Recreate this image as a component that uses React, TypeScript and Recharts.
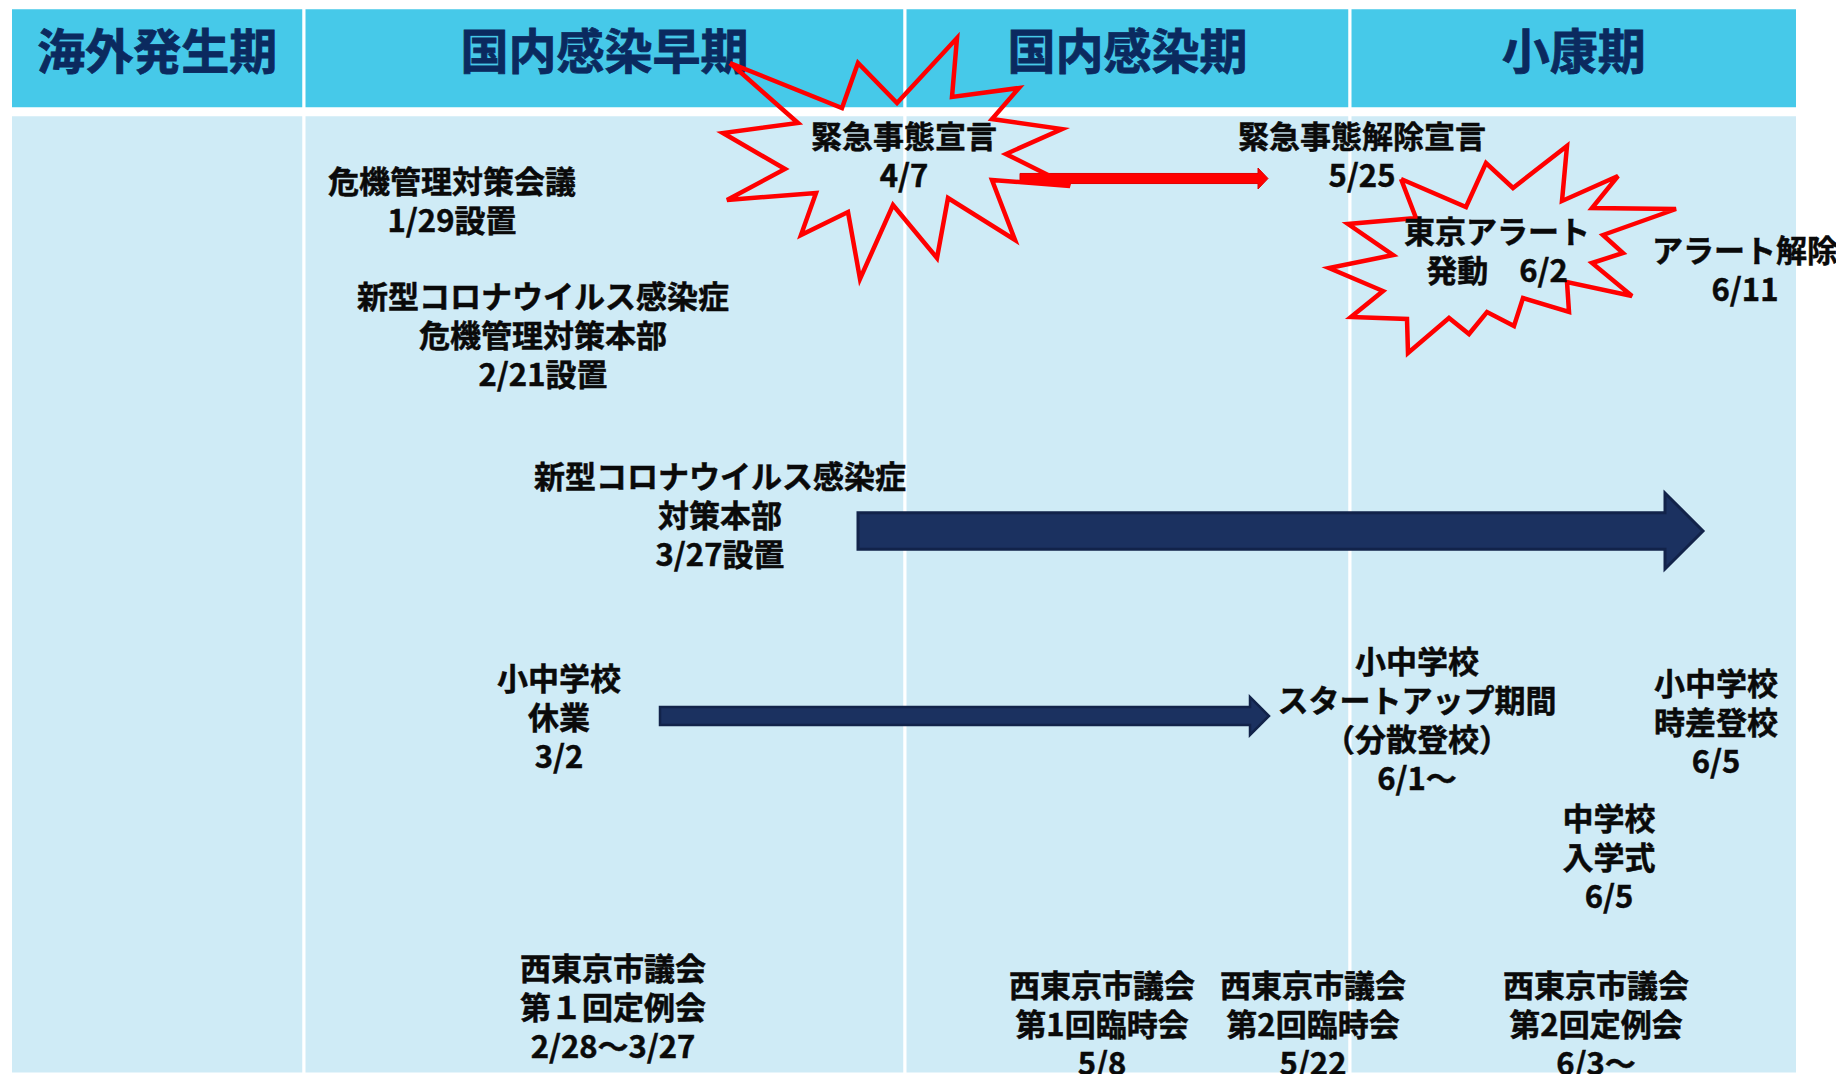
import { ScatterChart, Scatter, XAxis, YAxis, ReferenceArea } from 'recharts';

const W = 1836;
const H = 1074;

// phase columns, in the diagram's own layout units
const phaseNames = ['海外発生期', '国内感染早期', '国内感染期', '小康期'];
const phaseEdges = [10.5, 304, 905, 1350, 1797.5];
const headerBand = [7.8, 108.8];
const bodyBand = [114.8, 1074];

// event labels: x = centre, y = first line
const events = [
  { x: 452, y: 183, lines: ['危機管理対策会議', '1/29設置'] },
  { x: 543, y: 298, lines: ['新型コロナウイルス感染症', '危機管理対策本部', '2/21設置'] },
  { x: 720, y: 478, lines: ['新型コロナウイルス感染症', '対策本部', '3/27設置'] },
  { x: 559, y: 680, lines: ['小中学校', '休業', '3/2'] },
  { x: 613, y: 970, lines: ['西東京市議会', '第１回定例会', '2/28～3/27'] },
  { x: 904, y: 138, lines: ['緊急事態宣言', '4/7'] },
  { x: 1362, y: 138, lines: ['緊急事態解除宣言', '5/25'] },
  { x: 1497, y: 233, lines: ['東京アラート', '発動　6/2'] },
  { x: 1745, y: 252, lines: ['アラート解除', '6/11'] },
  { x: 1417, y: 663, lines: ['小中学校', 'スタートアップ期間', '（分散登校）', '6/1～'] },
  { x: 1716, y: 685, lines: ['小中学校', '時差登校', '6/5'] },
  { x: 1609, y: 820, lines: ['中学校', '入学式', '6/5'] },
  { x: 1102, y: 987, lines: ['西東京市議会', '第1回臨時会', '5/8'] },
  { x: 1313, y: 987, lines: ['西東京市議会', '第2回臨時会', '5/22'] },
  { x: 1596, y: 987, lines: ['西東京市議会', '第2回定例会', '6/3～'] },
];

// arrows: span along x, band along y
const arrows = [
  { name: 'emergency', x1: 1020, x2: 1268, y1: 168, y2: 189 },
  { name: 'headquarters', x1: 858, x2: 1703, y1: 493, y2: 569 },
  { name: 'closure', x1: 660, x2: 1269, y1: 697, y2: 735 },
];

// starburst outlines
const emergencyStar = [
  { x: 730, y: 63 }, { x: 842, y: 108 }, { x: 858, y: 63 }, { x: 897, y: 103 },
  { x: 957, y: 38 }, { x: 952, y: 97 }, { x: 1019, y: 88 }, { x: 992, y: 119 },
  { x: 1062, y: 129 }, { x: 1006, y: 154 }, { x: 1070, y: 186 }, { x: 992, y: 180 },
  { x: 1015, y: 240 }, { x: 948, y: 198 }, { x: 937, y: 258 }, { x: 893, y: 205 },
  { x: 860, y: 279 }, { x: 848, y: 212 }, { x: 801, y: 235 }, { x: 816, y: 193 },
  { x: 727, y: 200 }, { x: 785, y: 169 }, { x: 723, y: 133 }, { x: 798, y: 123 },
];
const alertStar = [
  { x: 1401, y: 179 }, { x: 1466, y: 207 }, { x: 1486, y: 163 }, { x: 1513, y: 188 },
  { x: 1567, y: 146 }, { x: 1562, y: 201 }, { x: 1618, y: 176 }, { x: 1592, y: 208 },
  { x: 1676, y: 209 }, { x: 1603, y: 235 }, { x: 1623, y: 253 }, { x: 1592, y: 263 },
  { x: 1632, y: 296 }, { x: 1567, y: 282 }, { x: 1569, y: 312 }, { x: 1523, y: 298 },
  { x: 1514, y: 326 }, { x: 1487, y: 312 }, { x: 1469, y: 334 }, { x: 1449, y: 318 },
  { x: 1408, y: 353 }, { x: 1407, y: 319 }, { x: 1351, y: 317 }, { x: 1383, y: 291 },
  { x: 1329, y: 268 }, { x: 1393, y: 255 }, { x: 1348, y: 224 }, { x: 1416, y: 218 },
];

const FONT = '"Noto Sans CJK JP", "Noto Sans", sans-serif';
const HEADER_FILL = '#46C9E9';
const BODY_FILL = '#CFEBF6';
const LINE_GAP = 39;

const arrowStyles: Record<string, any> = {
  emergency: { fill: '#FF0000', stroke: '#E00000', strokeWidth: 1, shaft: 0.48, head: 10 },
  headquarters: { fill: '#1B3160', stroke: '#12234A', strokeWidth: 3, shaft: 0.48, head: 38 },
  closure: { fill: '#1B3160', stroke: '#12234A', strokeWidth: 2.5, shaft: 0.47, head: 19 },
};

const arrowShape = (style: any) => (props: any) => {
  const { x, y, width, height } = props;
  const cy = y + height / 2;
  const half = (height * style.shaft) / 2;
  const hx = x + width - style.head;
  const d = `M${x},${cy - half} L${hx},${cy - half} L${hx},${y} L${x + width},${cy} L${hx},${y + height} L${hx},${cy + half} L${x},${cy + half} Z`;
  return <path d={d} fill={style.fill} stroke={style.stroke} strokeWidth={style.strokeWidth} strokeLinejoin="miter" />;
};

const EventLabel = (props: any) => {
  const { cx, cy, payload } = props;
  return (
    <text
      x={cx}
      y={cy - 4}
      textAnchor="middle"
      dominantBaseline="central"
      fontFamily={FONT}
      fontWeight={700}
      fontSize={31}
      fill="#0A0A0A"
      stroke="#0A0A0A"
      strokeWidth={0.5}
    >
      {payload.lines.map((t: string, i: number) => (
        <tspan key={i} x={cx} dy={i === 0 ? 0 : LINE_GAP}>
          {t}
        </tspan>
      ))}
    </text>
  );
};

const HeaderLabel = (text: string) => (props: any) => {
  const { x, y, width, height } = props.viewBox;
  return (
    <text
      x={x + width / 2}
      y={y + height / 2 - 10}
      textAnchor="middle"
      dominantBaseline="central"
      fontFamily={FONT}
      fontWeight={700}
      fontSize={48}
      fill="#0B2A5F"
      stroke="#0B2A5F"
      strokeWidth={0.8}
    >
      {text}
    </text>
  );
};

const noMarker = () => <g />;

export default function App() {
  return (
    <div style={{ position: 'absolute', left: 0, top: 0, width: W, height: H, background: '#fff' }}>
      <ScatterChart width={W} height={H} margin={{ top: 0, right: 0, bottom: 0, left: 0 }}>
        <XAxis type="number" dataKey="x" domain={[0, W]} allowDataOverflow hide />
        <YAxis type="number" dataKey="y" domain={[0, H]} allowDataOverflow reversed hide />

        {phaseNames.map((name, i) => (
          <ReferenceArea
            key={`h-${name}`}
            x1={phaseEdges[i]}
            x2={phaseEdges[i + 1]}
            y1={headerBand[0]}
            y2={headerBand[1]}
            fill={HEADER_FILL}
            fillOpacity={1}
            stroke="#FFFFFF"
            strokeWidth={3}
            label={{ content: HeaderLabel(name) }}
          />
        ))}
        {phaseNames.map((name, i) => (
          <ReferenceArea
            key={`b-${name}`}
            x1={phaseEdges[i]}
            x2={phaseEdges[i + 1]}
            y1={bodyBand[0]}
            y2={bodyBand[1]}
            fill={BODY_FILL}
            fillOpacity={1}
            stroke="#FFFFFF"
            strokeWidth={3}
          />
        ))}

        {arrows.map((a) => (
          <ReferenceArea
            key={a.name}
            x1={a.x1}
            x2={a.x2}
            y1={a.y1}
            y2={a.y2}
            shape={arrowShape(arrowStyles[a.name])}
          />
        ))}

        <Scatter
          data={[...emergencyStar, emergencyStar[0]]}
          fill="none"
          line={{ stroke: '#FF0000', strokeWidth: 4.5, strokeLinejoin: 'miter' }}
          lineJointType="linear"
          shape={noMarker}
          isAnimationActive={false}
        />
        <Scatter
          data={[...alertStar, alertStar[0]]}
          fill="none"
          line={{ stroke: '#FF0000', strokeWidth: 4.5, strokeLinejoin: 'miter' }}
          lineJointType="linear"
          shape={noMarker}
          isAnimationActive={false}
        />
        <Scatter data={events} shape={EventLabel} isAnimationActive={false} />
      </ScatterChart>
    </div>
  );
}
